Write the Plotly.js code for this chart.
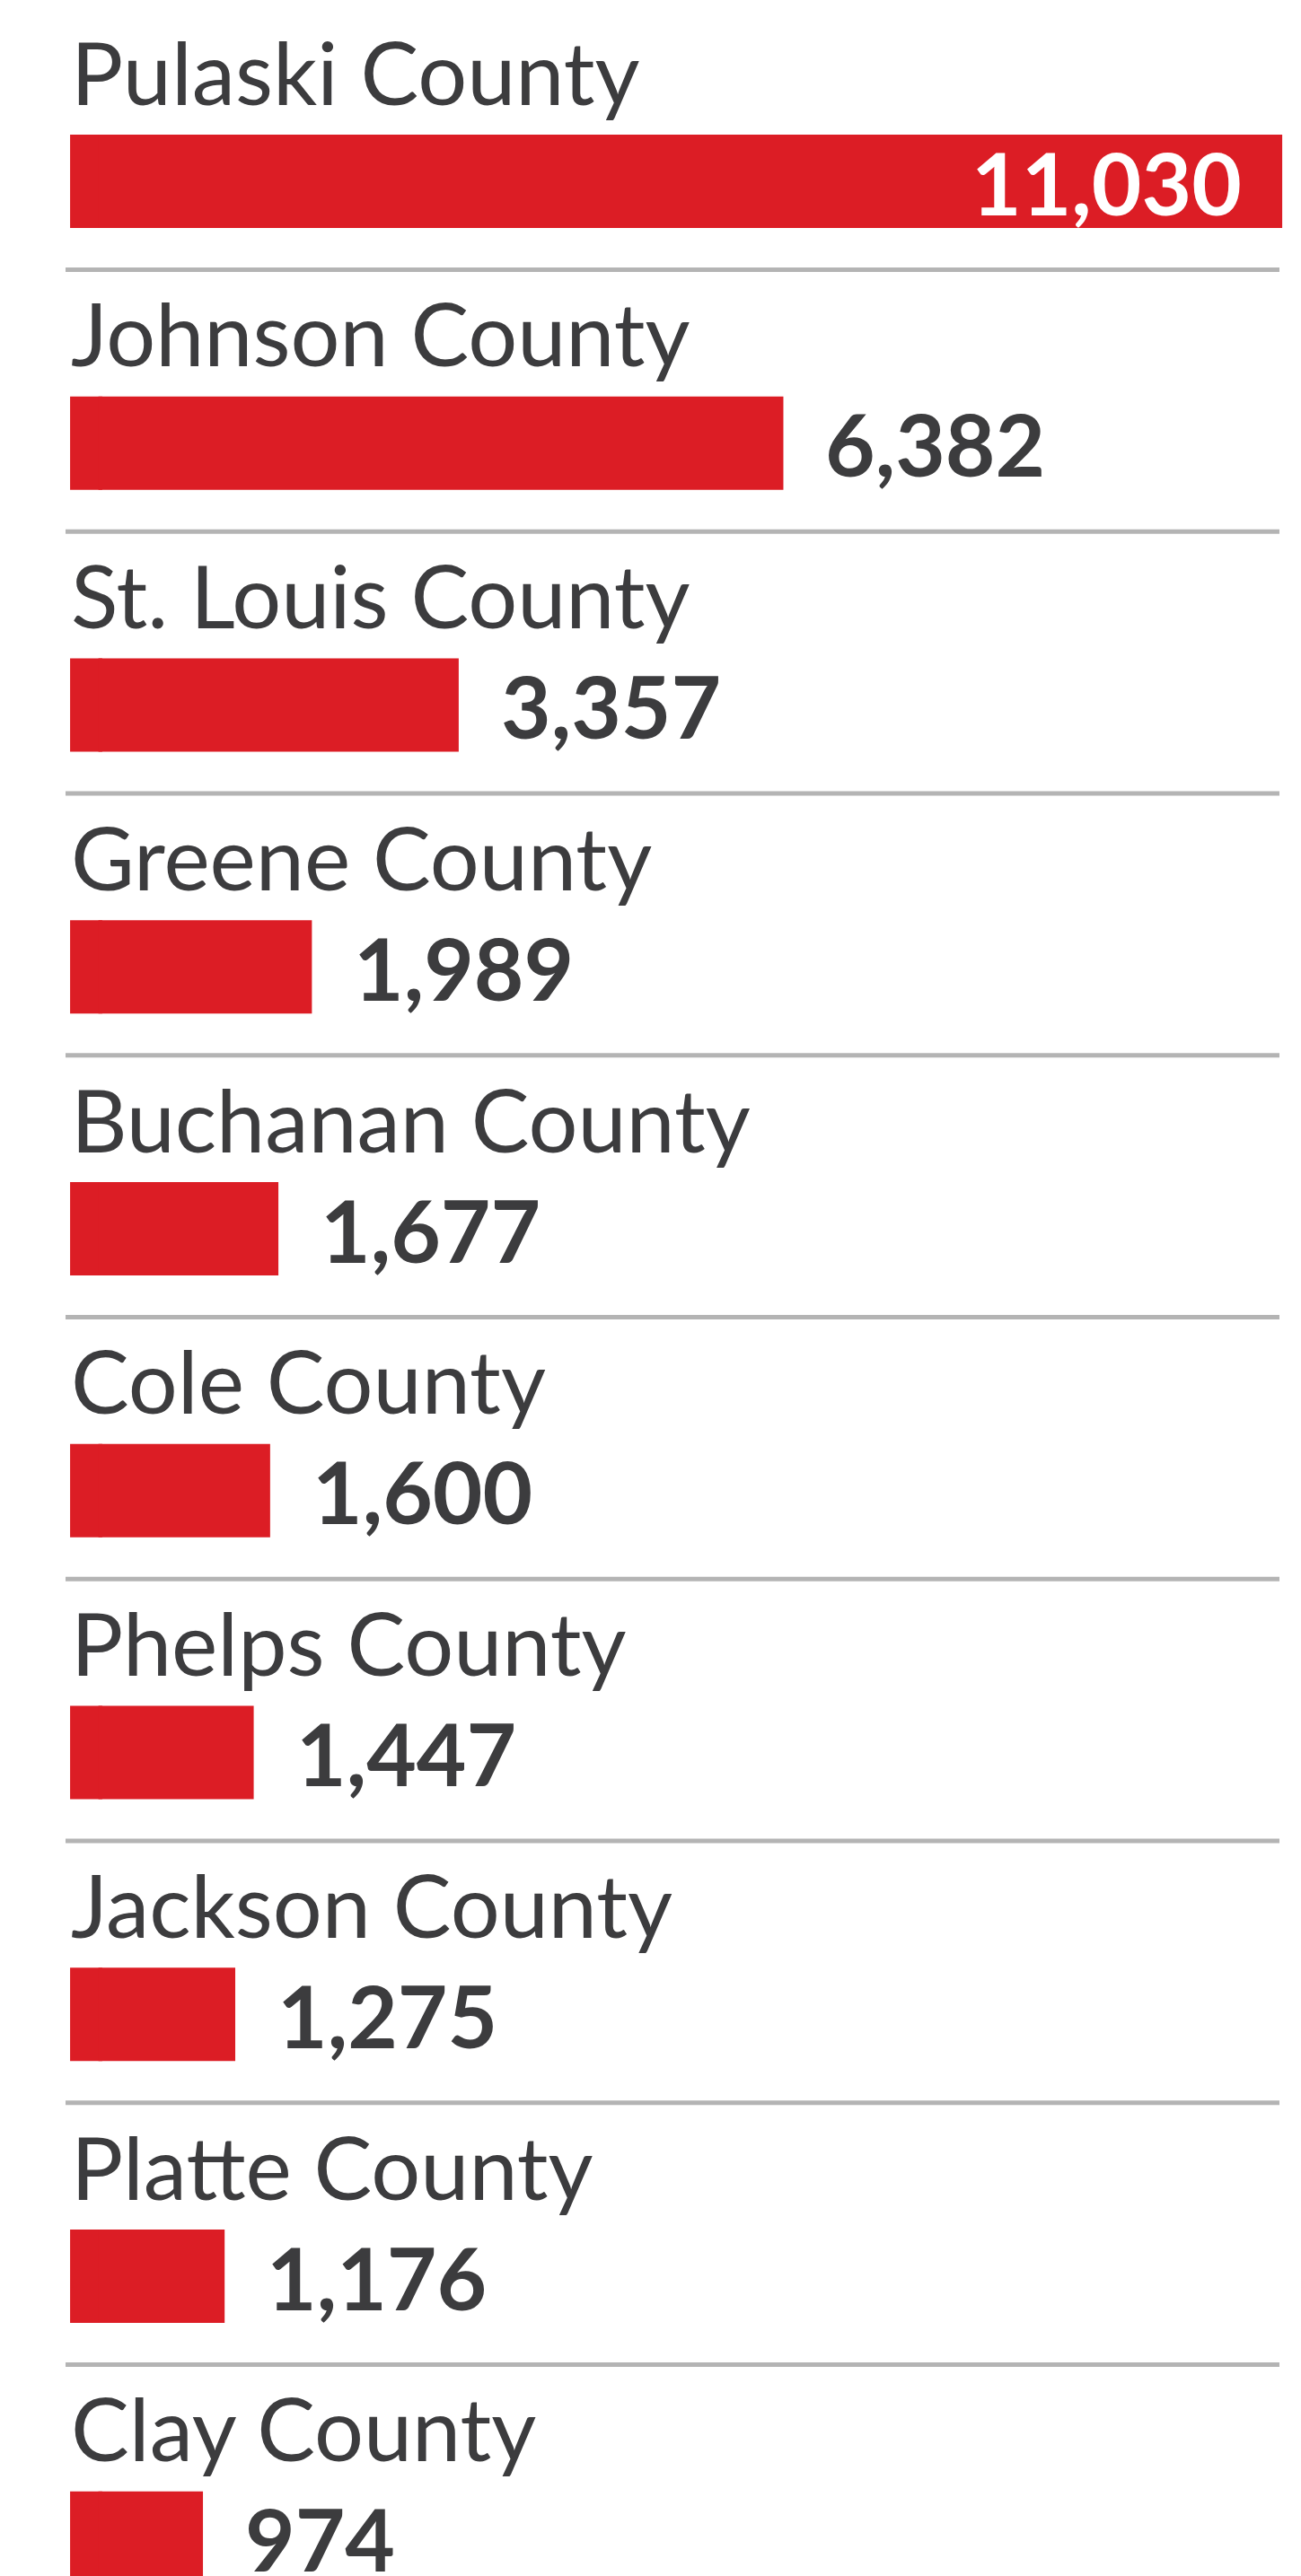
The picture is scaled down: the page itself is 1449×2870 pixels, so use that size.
<!DOCTYPE html>
<html>
<head>
<meta charset="utf-8">
<script src="https://cdn.plot.ly/plotly-3.0.1.min.js"></script>
<style>
  html, body { margin: 0; padding: 0; background: #ffffff; }
  #chart { width: 1449px; height: 2870px; }
</style>
</head>
<body>
<div id="chart"></div>
<script>
// ---- data ----
const counties = ["Pulaski County", "Johnson County", "St. Louis County", "Greene County",
  "Buchanan County", "Cole County", "Phelps County", "Jackson County", "Platte County", "Clay County"];
const values = [11030, 6382, 3357, 1989, 1677, 1600, 1447, 1275, 1176, 974];
const valueLabels = ["11,030", "6,382", "3,357", "1,989", "1,677", "1,600", "1,447", "1,275", "1,176", "974"];

// ---- style ----
const BAR_COLOR = "#dc1d25";
const TEXT_COLOR = "#3c3c3e";
const STUB_BASE = -264;   // bars in the original start a little left of zero
const STUB_LEN = 300;

const idx = counties.map((_, i) => i);
const maxVal = Math.max(...values);

const stub = {
  type: "bar", orientation: "h",
  y: counties, x: counties.map(() => STUB_LEN), base: counties.map(() => STUB_BASE),
  marker: { color: BAR_COLOR, line: { width: 0 } },
  width: 0.3565, hoverinfo: "skip", showlegend: false
};
const main = {
  type: "bar", orientation: "h",
  y: counties, x: values,
  marker: { color: BAR_COLOR, line: { width: 0 } },
  width: 0.3565, showlegend: false,
  hovertemplate: "%{y}: %{x:,}<extra></extra>"
};

const annotations = [];
counties.forEach((c, i) => {
  annotations.push({
    xref: "paper", yref: "y", x: 77 / 1449, y: c,
    xanchor: "left", yanchor: "middle", yshift: 123,
    text: c, showarrow: false,
    font: { family: "Lato, 'Open Sans', sans-serif", size: 97, color: TEXT_COLOR }
  });
  const inside = values[i] === maxVal;
  annotations.push({
    xref: "x", yref: "y", x: values[i], y: c,
    xanchor: inside ? "right" : "left", yanchor: "middle",
    xshift: inside ? -43 : 45, yshift: 0,
    text: valueLabels[i], showarrow: false,
    font: { family: "Lato, 'Open Sans', sans-serif", size: 96, weight: 700,
            color: inside ? "#ffffff" : TEXT_COLOR }
  });
});

const shapes = idx.slice(0, counties.length - 1).map(i => ({
  type: "line", xref: "paper", yref: "y",
  x0: 73 / 1449, x1: 1425 / 1449, y0: i + 0.3376, y1: i + 0.3376,
  line: { color: "#b4b4b4", width: 5 }
}));

const layout = {
  width: 1449, height: 2870,
  margin: { l: 0, r: 0, t: 0, b: 0, pad: 0 },
  paper_bgcolor: "#ffffff", plot_bgcolor: "#ffffff",
  barmode: "overlay", showlegend: false,
  xaxis: { range: [-917, 11205], visible: false, fixedrange: true },
  yaxis: { type: "category", categoryorder: "array", categoryarray: counties,
           range: [9.1448, -0.6924], visible: false, fixedrange: true },
  annotations: annotations,
  shapes: shapes
};

Plotly.newPlot("chart", [stub, main], layout, { displayModeBar: false, staticPlot: true });
</script>
</body>
</html>
